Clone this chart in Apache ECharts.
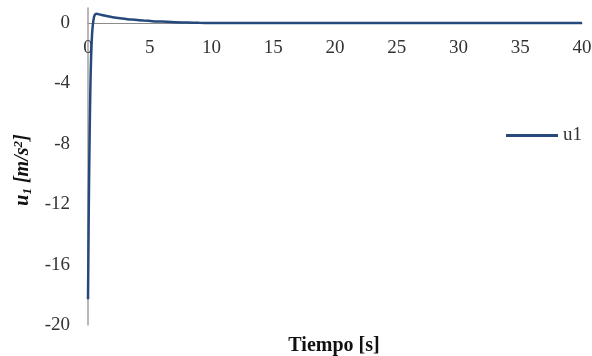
<!DOCTYPE html>
<html>
<head>
<meta charset="utf-8">
<script src="https://cdn.jsdelivr.net/npm/echarts@6/dist/echarts.min.js"></script>
<style>html,body{margin:0;padding:0;background:#fff}#c{width:592px;height:356px}</style>
</head>
<body>
<div id="c"></div>
<script>
var timeS = [0, 0.03, 0.06, 0.1, 0.14, 0.18, 0.22, 0.28, 0.35, 0.45, 0.55, 0.7, 0.9, 1.2, 1.6, 2, 2.6, 3.2, 3.8, 4.5, 5.2, 6, 7, 8, 9, 10, 12, 15, 20, 25, 30, 35, 40];
var u1 = [-18.3, -15.5, -12.5, -9.5, -7.0, -4.9, -3.2, -1.6, -0.5, 0.25, 0.55, 0.62, 0.58, 0.52, 0.45, 0.39, 0.32, 0.26, 0.22, 0.17, 0.13, 0.1, 0.06, 0.04, 0.02, 0.01, 0.0, 0.0, 0.0, 0.0, 0.0, 0.0, 0.0];
var xTicks = {min: 0, max: 40, interval: 5};
var yTicks = {min: -20, max: 1, interval: 4};
var seriesName = 'u1';
var xTitle = 'Tiempo [s]';

var pts = timeS.map(function (t, i) { return [t, u1[i]]; });
var chart = echarts.init(document.getElementById('c'));
var serif = '"Liberation Serif", "Times New Roman", serif';
var gridTop = 8, gridBottom = 31, H = 356;
var plotH = H - gridTop - gridBottom;
var zeroOffset = plotH * (yTicks.max - 0) / (yTicks.max - yTicks.min);
var nameRich = function (size, extra) {
  var o = {fontFamily: serif, fontSize: size, fontWeight: 'bold', fontStyle: 'italic', color: '#111'};
  for (var k in extra) o[k] = extra[k];
  return o;
};
chart.setOption({
  animation: false,
  title: {
    text: xTitle, left: 329, top: 331, textAlign: 'center',
    textStyle: {fontFamily: serif, fontSize: 20, fontWeight: 'bold', color: '#111'}
  },
  grid: {left: 88, right: 10, top: gridTop, bottom: gridBottom, containLabel: false, outerBoundsMode: 'none'},
  legend: {
    data: [seriesName], left: 501, top: 121, icon: 'rect', itemWidth: 52, itemHeight: 3, itemGap: 4,
    textStyle: {fontFamily: serif, fontSize: 19, color: '#333'}
  },
  xAxis: {
    type: 'value', min: xTicks.min, max: xTicks.max, interval: xTicks.interval,
    position: 'top', offset: -zeroOffset,
    axisLine: {onZero: false, lineStyle: {color: '#8c8c8c', width: 1.2}},
    axisTick: {show: false}, splitLine: {show: false},
    axisLabel: {inside: true, margin: 15, fontFamily: serif, fontSize: 19, color: '#333'}
  },
  yAxis: {
    type: 'value', min: yTicks.min, max: yTicks.max, interval: yTicks.interval,
    axisLine: {lineStyle: {color: '#a0a0a0', width: 1.5}},
    axisTick: {show: false}, splitLine: {show: false},
    axisLabel: {margin: 18, fontFamily: serif, fontSize: 19, color: '#333',
      formatter: function (v) { return v > 0 ? '' : String(v); }},
    name: '{a|u}{s|1}{b| [m/s}{p|2}{b|]}', nameLocation: 'middle', nameGap: 54,
    nameTextStyle: {
      fontFamily: serif, fontSize: 20, fontWeight: 'bold', color: '#111', padding: [0, 7, 0, 0],
      rich: {
        a: nameRich(20, {}),
        s: nameRich(13, {verticalAlign: 'bottom', padding: [9, 0, 0, 0]}),
        b: nameRich(20, {}),
        p: nameRich(13, {verticalAlign: 'top', padding: [0, 0, 9, 0]})
      }
    }
  },
  series: [{
    name: seriesName, type: 'line', data: pts, smooth: 0.3, showSymbol: false, symbol: 'none',
    lineStyle: {color: '#24497a', width: 2.5}, itemStyle: {color: '#24497a'}
  }]
});
</script>
</body>
</html>
